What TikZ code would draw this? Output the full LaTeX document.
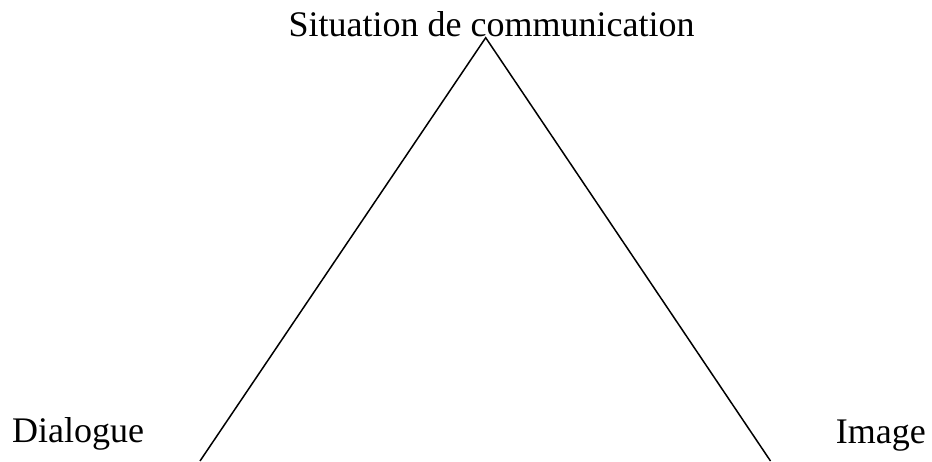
\documentclass[tikz,border=0pt]{standalone}
\usepackage{fontspec}
\setmainfont{Liberation Serif}
\begin{document}
\begin{tikzpicture}[x=1pt,y=1pt,
  label text/.style={inner sep=0pt,font=\fontsize{36}{40}\selectfont},
  side/.style={draw=black,line width=1.5pt}]
\useasboundingbox (0,0) rectangle (932,461);
% corner labels
\node[label text,anchor=base] (top) at (491.5,424) {Situation de communication};
\node[label text,anchor=base west] (left) at (12,19) {Dialogue};
\node[label text,anchor=base east] (right) at (926,18) {Image};
% triangle sides, open at the bottom edge
\coordinate (apex) at (485.7,423.3);
\coordinate (bl) at (200,0);
\coordinate (br) at (770.5,0);
\draw[side] (bl) -- (apex) -- (br);
\end{tikzpicture}
\end{document}
